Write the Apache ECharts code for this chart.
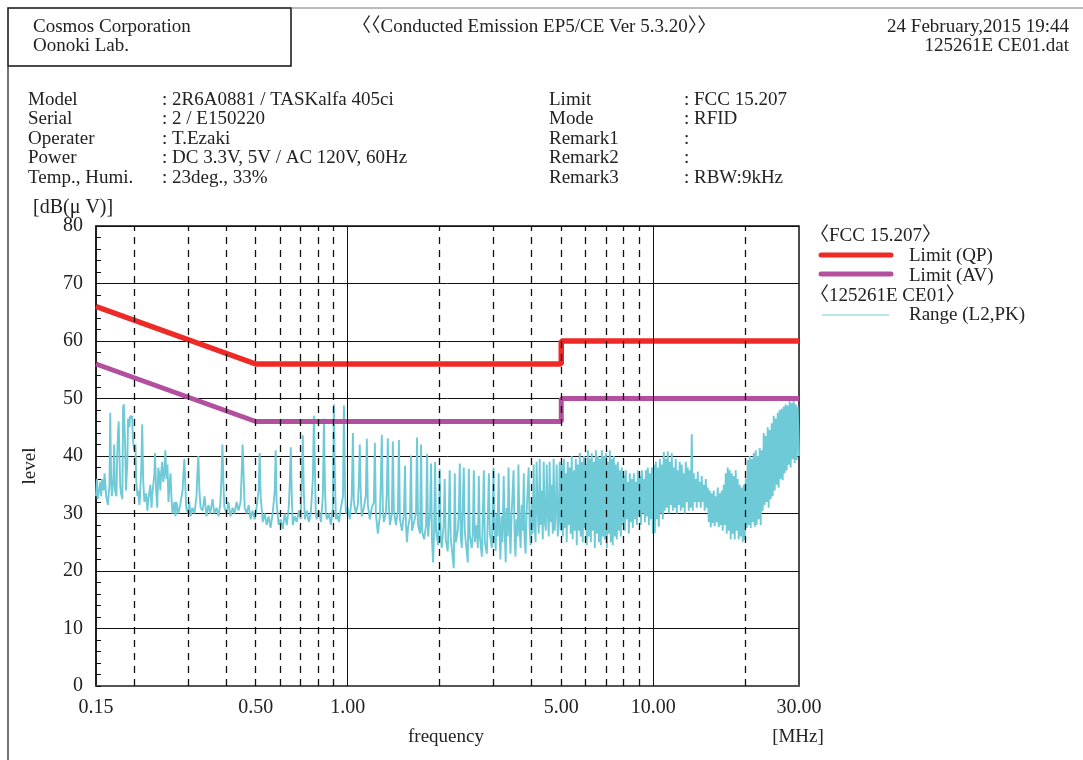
<!DOCTYPE html>
<html>
<head>
<meta charset="utf-8">
<script src="https://cdn.jsdelivr.net/npm/echarts@6/dist/echarts.min.js"></script>
<style>
  html, body { margin: 0; padding: 0; background: #fff; }
  #chart { width: 1083px; height: 760px; }
</style>
</head>
<body>
<div id="chart"></div>
<script>
// ---- Limit lines (MHz, dBuV) ----
const limitQP = [[0.15, 66], [0.5, 56], [5, 56], [5, 60], [30, 60]];
const limitAV = [[0.15, 56], [0.5, 46], [5, 46], [5, 50], [30, 50]];

// ---- Measured peak trace, L2 (MHz, dBuV), split by band ----
const traceBand1 = [
  [0.150,33],[0.151,36],[0.152,32.5],[0.155,35.5],[0.156,33],[0.157,36],[0.159,34],[0.160,37],[0.162,33],[0.164,31.5],
  [0.166,35],[0.167,47.5],[0.168,37],[0.169,33],[0.171,36],[0.172,42],[0.173,34],[0.175,33],[0.176,40],[0.177,44],
  [0.178,46],[0.180,35],[0.181,33.5],[0.183,32.5],[0.184,48.5],[0.185,49],[0.187,41],[0.188,34],[0.190,39],[0.191,46.5],
  [0.193,45],[0.194,47],[0.196,46.5],[0.197,47],[0.198,43],[0.200,41],[0.202,42],[0.203,36],[0.205,33],[0.206,34],
  [0.208,31.5],[0.209,33],[0.211,38],[0.2125,45.5],[0.214,36],[0.216,32],[0.219,33.5],[0.221,30.5],[0.222,32],[0.226,35],
  [0.228,31],[0.229,33],[0.233,37],[0.234,40.5],[0.236,34],[0.238,31],[0.240,38],[0.242,36.5],[0.2435,34],[0.245,37],
  [0.247,39],[0.249,35.5],[0.251,37],[0.253,41],[0.255,36],[0.257,38.5],[0.259,32],[0.261,35],[0.263,37],[0.265,32.5],
  [0.267,30],[0.271,32],[0.273,29.5],[0.275,32],[0.279,30],[0.283,31.5],[0.288,34],[0.290,37],[0.292,39.5],[0.294,35],
  [0.296,31],[0.300,30],[0.303,32],[0.306,29.5],[0.310,31],[0.315,30],[0.320,33],[0.322,37],[0.3245,40],[0.327,34],
  [0.330,31],[0.335,30.5],[0.340,33],[0.345,29.5],[0.350,31.5],[0.355,30],[0.361,32.5],[0.366,30],[0.372,31],[0.378,29.5],
  [0.383,32],[0.386,36],[0.389,42],[0.392,35],[0.395,31],[0.401,30],[0.407,32],[0.413,29.5],[0.420,31],[0.426,30],
  [0.433,32],[0.439,30.5],[0.446,32],[0.449,36],[0.453,42],[0.456,37],[0.460,31],[0.467,30],[0.474,31.5],[0.481,29],
  [0.488,30.5],[0.496,29],[0.503,31],[0.511,34],[0.515,40.5],[0.519,33],[0.527,28.5],[0.535,30],[0.543,28],[0.551,29.5],
  [0.559,27.5],[0.568,30],[0.577,34],[0.581,41],[0.585,32],[0.594,28],[0.603,29],[0.613,27.3],[0.622,30],[0.632,28],
  [0.641,31],[0.646,35],[0.651,41.5],[0.656,33],[0.661,28],[0.671,29.5],[0.681,28.5],[0.692,30.5],[0.702,29],[0.707,36],
  [0.713,43.6],[0.718,34],[0.724,29],[0.735,30.5],[0.746,28.5],[0.757,30],[0.769,36],[0.775,47],[0.781,38],[0.786,30],
  [0.792,29],[0.805,30.5],[0.817,28.5],[0.829,33],[0.836,46.5],[0.842,35],[0.848,30],[0.855,29],[0.868,30],[0.881,28],
  [0.894,31],[0.901,49],[0.908,36],[0.915,29],[0.922,30],[0.936,28.5],[0.950,31],[0.965,33],[0.972,48.8],[0.980,34],
  [0.987,30],[0.995,30.5]
];
const traceBand2 = [
  [1.000,31],[1.015,29],[1.031,33],[1.040,44],[1.047,32],[1.063,30],[1.079,31.5],[1.087,35],[1.095,42],[1.104,33],
  [1.112,29.5],[1.129,31],[1.146,33],[1.155,43],[1.164,31.5],[1.181,29],[1.199,31],[1.218,32],[1.227,42.3],[1.236,30],
  [1.255,26.5],[1.274,29.5],[1.284,36],[1.293,43.7],[1.303,31],[1.313,28.5],[1.333,30],[1.343,34],[1.353,43.1],[1.363,31.5],
  [1.374,28],[1.395,30],[1.405,42.5],[1.416,30.5],[1.438,28],[1.460,30.5],[1.471,42.8],[1.482,29],[1.505,27],[1.528,30],
  [1.540,38.3],[1.551,28],[1.563,25],[1.575,27.5],[1.599,29.5],[1.611,40.1],[1.623,27],[1.648,28.5],[1.673,30],[1.686,43.2],
  [1.699,28],[1.725,26.5],[1.738,42],[1.751,27],[1.778,25.5],[1.805,28],[1.819,40.4],[1.832,26],[1.860,30],[1.874,38.7],
  [1.888,25],[1.903,21.5],[1.917,26.5],[1.932,39],[1.946,27],[1.976,24.5],[1.991,31],[2.000,37.8],[2.015,26],[2.031,24],
  [2.061,28],[2.077,36],[2.093,25.5],[2.125,23.4],[2.141,29],[2.157,37.5],[2.173,26],[2.190,24],[2.224,20.5],[2.241,37],
  [2.257,25],[2.292,27],[2.310,30],[2.327,38.7],[2.344,26],[2.362,24],[2.398,38],[2.416,27],[2.435,25],[2.472,21.5],
  [2.491,37.8],[2.510,26],[2.548,24],[2.568,27],[2.587,37.5],[2.607,25],[2.646,28],[2.666,24],[2.686,36.5],[2.707,26],
  [2.748,22.5],[2.769,30],[2.790,37.5],[2.811,25],[2.854,23],[2.898,37],[2.920,26.5],[2.964,24],[3.000,38]
];
const traceBand3 = [
  [3.02,28],[3.05,23.5],[3.07,30],[3.09,26],[3.12,37],[3.14,27],[3.16,22],[3.19,29.5],[3.21,25],[3.24,36.5],
  [3.26,28],[3.29,21.5],[3.31,31],[3.34,26],[3.36,38],[3.39,27.5],[3.41,23],[3.44,30],[3.46,33],[3.49,37.5],
  [3.52,25.5],[3.54,22.5],[3.57,29],[3.60,26],[3.62,38.5],[3.65,28],[3.68,24],[3.71,31.5],[3.74,27],[3.77,37],
  [3.79,26],[3.82,23],[3.85,30],[3.88,34],[3.91,38],[3.94,27.5],[3.97,24.5],[4.00,32],[4.03,26.5],[4.06,38.5],
  [4.09,28],[4.12,25],[4.15,39],[4.19,30],[4.22,26.5],[4.25,39.5],[4.28,28],[4.31,34],[4.35,25.5],[4.38,39],
  [4.41,29],[4.45,27],[4.48,38.5],[4.51,31],[4.55,26],[4.58,39],[4.62,28.5],[4.65,35],[4.69,26.5],[4.72,39.5],
  [4.76,27],[4.80,31],[4.83,38.5],[4.87,26],[4.91,29],[4.94,39],[4.98,27]
];
const traceBand4 = [
  [5.02,38.5],[5.06,26],[5.10,39.5],[5.13,27.5],[5.17,37],[5.21,25],[5.25,39],[5.29,28],[5.33,38],[5.37,26.5],
  [5.41,40],[5.45,25.5],[5.50,37.5],[5.54,27],[5.58,39.5],[5.62,24.5],[5.66,38.5],[5.71,27],[5.75,40.5],[5.79,26],
  [5.84,39],[5.88,25],[5.93,40],[5.97,27.5],[6.02,38.5],[6.06,24.5],[6.11,41],[6.15,26],[6.20,39.5],[6.25,25],
  [6.29,40.5],[6.34,27],[6.39,39],[6.44,24],[6.49,41],[6.54,26.5],[6.59,40],[6.64,25],[6.69,39.5],[6.74,24.5],
  [6.79,41],[6.84,26],[6.89,40],[6.94,25.5],[7.00,40.5],[7.05,24],[7.10,39],[7.16,26.5],[7.21,41],[7.26,25],
  [7.32,39.5],[7.37,24.5],[7.43,40],[7.49,26],[7.54,38.5],[7.60,25.5],[7.66,39],[7.72,27],[7.77,37.5],[7.83,26],
  [7.89,38],[7.95,28],[8.01,36.5],[8.07,27],[8.13,37.5],[8.20,29],[8.26,35.5],[8.32,26.5],[8.38,37],[8.45,28.5],
  [8.51,36],[8.58,27.5],[8.64,37],[8.71,29],[8.77,35.5],[8.84,28],[8.91,37.5],[8.97,29.5],[9.04,36.5],[9.11,28],
  [9.18,37.5],[9.25,30],[9.32,36],[9.39,28.5],[9.46,37.5],[9.53,29.5],[9.60,38],[9.68,28],[9.75,37],[9.82,29],
  [9.90,38],[9.97,26.5]
];
const traceBand5 = [
  [10.05,38.5],[10.12,26.6],[10.20,39],[10.28,29],[10.35,38],[10.43,27.7],[10.51,39.5],[10.59,30],[10.67,38.5],[10.75,29],
  [10.83,40.7],[10.91,30.5],[10.99,39.5],[11.08,31],[11.16,40.8],[11.25,30],[11.33,39],[11.42,31.5],[11.50,40.5],[11.59,30.5],
  [11.68,38],[11.76,31],[11.85,39.5],[11.94,30],[12.03,37.5],[12.12,31.5],[12.21,39],[12.31,30.5],[12.40,38.5],[12.49,31],
  [12.59,37],[12.68,30],[12.78,39],[12.87,32],[12.97,38],[13.07,30.5],[13.17,37.5],[13.27,31],[13.37,43.8],[13.47,30.5],
  [13.57,37],[13.67,32],[13.78,36],[13.88,31],[13.99,37.3],[14.09,32],[14.20,35.5],[14.31,31],[14.41,36.5],[14.52,32],
  [14.63,35],[14.74,30.5],[14.86,36],[14.97,31],[15.08,34.5],[15.20,28.5],[15.31,34],[15.43,27.6],[15.54,33.5],[15.66,28.3],
  [15.78,34],[15.90,27.8],[16.02,33],[16.14,28.5],[16.26,34.5],[16.38,27.6],[16.51,33.5],[16.63,28],[16.76,34],[16.88,27],
  [17.01,35],[17.14,28],[17.27,37],[17.40,26.5],[17.53,38],[17.66,27],[17.80,37.5],[17.93,25.5],[18.07,37],[18.20,26.5],
  [18.34,36.5],[18.48,25.5],[18.62,37.5],[18.76,27],[18.90,36],[19.04,25.5],[19.19,35],[19.33,26],[19.48,34.5],[19.63,25],
  [19.78,35],[19.93,25.4],[20.08,36],[20.23,27.5],[20.38,39.3],[20.54,28],[20.69,40],[20.85,27.5],[21.01,39.5],[21.17,28.5],
  [21.33,40.5],[21.49,27.7],[21.65,41],[21.81,28],[21.98,40],[22.14,29],[22.31,41.4],[22.48,28],[22.65,41],[22.82,30.5],
  [22.99,44],[23.17,31.5],[23.34,43.5],[23.52,32],[23.70,45],[23.87,31],[24.06,44.5],[24.24,32.5],[24.42,45.7],[24.61,33],
  [24.79,47],[24.98,34],[25.17,46.5],[25.36,35],[25.55,47.5],[25.74,34.5],[25.94,48],[26.13,36],[26.33,48.2],[26.53,35.8],
  [26.73,48.6],[26.93,37],[27.13,49],[27.34,37.5],[27.54,48.8],[27.75,38.5],[27.96,49.6],[28.17,38],[28.39,49.2],[28.60,39.5],
  [28.82,49.8],[29.03,38.8],[29.25,49],[29.47,39.3],[29.70,48.6],[30.00,40]
];

// ---- Axis decoration ----
const dashedGridFreqs = [0.2, 0.3, 0.4, 0.5, 0.6, 0.7, 0.8, 0.9, 2, 3, 4, 5, 6, 7, 8, 9, 20];
const solidGridFreqs = [1, 10];
const freqTicks = [0.15, 0.5, 1, 5, 10, 30];
const freqTickLabels = ['0.15', '0.50', '1.00', '5.00', '10.00', '30.00'];

// ---- Header / info text ----
const infoLeftKeys = ['Model', 'Serial', 'Operater', 'Power', 'Temp., Humi.'];
const infoLeftVals = [': 2R6A0881 / TASKalfa 405ci', ': 2 / E150220', ': T.Ezaki', ': DC 3.3V, 5V / AC 120V, 60Hz', ': 23deg., 33%'];
const infoRightKeys = ['Limit', 'Mode', 'Remark1', 'Remark2', 'Remark3'];
const infoRightVals = [': FCC 15.207', ': RFID', ':', ':', ': RBW:9kHz'];

const FONT_FAMILY = '"Liberation Serif", "Noto Sans CJK JP", serif';
const TXT = '#222';
const font = (size) => size + 'px ' + FONT_FAMILY;

const traceData = [].concat(traceBand1, traceBand2, traceBand3, traceBand4, traceBand5);

function txt(text, x, y, opts) {
  opts = opts || {};
  return {
    type: 'text', x: x, y: y, rotation: opts.rotation || 0, silent: true,
    style: {
      text: text, font: font(opts.size || 19), fill: opts.color || TXT,
      align: opts.align || 'left', verticalAlign: 'middle',
      textAlign: opts.align || 'left', textVerticalAlign: 'middle'
    }
  };
}
function seg(x1, y1, x2, y2, color, width, cap) {
  return { type: 'line', silent: true, shape: { x1: x1, y1: y1, x2: x2, y2: y2 },
           style: { stroke: color, lineWidth: width, lineCap: cap || 'butt' } };
}

const rowY = [100, 119.5, 139, 158.5, 178];
const graphics = [
  // page frame
  { type: 'rect', silent: true, shape: { x: 8, y: 8, width: 283, height: 58 },
    style: { fill: 'none', stroke: '#111', lineWidth: 1.5 } },
  seg(291, 8, 1083, 8, '#777', 1),
  seg(8, 66, 8, 760, '#444', 1.5),
  // header
  txt('Cosmos Corporation', 33, 27),
  txt('Oonoki Lab.', 33, 46),
  txt('〈〈Conducted Emission EP5/CE Ver 5.3.20〉〉', 352, 27),
  txt('24 February,2015 19:44', 1069, 27, { align: 'right' }),
  txt('125261E CE01.dat', 1069, 46, { align: 'right' }),
  // axis titles
  txt('[dB(μ V)]', 33, 208, { size: 20 }),
  txt('level', 30, 466, { rotation: Math.PI / 2, align: 'center' }),
  txt('frequency', 446, 737, { align: 'center' }),
  txt('[MHz]', 798, 737, { align: 'center' }),
  // legend
  txt('〈FCC 15.207〉', 810, 236),
  seg(821, 255, 891, 255, '#ee2a27', 5, 'round'),
  txt('Limit (QP)', 909, 256),
  seg(821, 274, 891, 274, '#b24f9e', 5, 'round'),
  txt('Limit (AV)', 909, 276),
  txt('〈125261E CE01〉', 810, 296),
  seg(822, 315, 889, 315, '#6fcad8', 1),
  txt('Range (L2,PK)', 909, 315)
];
infoLeftKeys.forEach((k, i) => {
  graphics.push(txt(k, 28, rowY[i]));
  graphics.push(txt(infoLeftVals[i], 162, rowY[i]));
});
infoRightKeys.forEach((k, i) => {
  graphics.push(txt(k, 549, rowY[i]));
  graphics.push(txt(infoRightVals[i], 684, rowY[i]));
});

const chart = echarts.init(document.getElementById('chart'), null, { renderer: 'canvas' });
chart.setOption({
  animation: false,
  backgroundColor: '#fff',
  grid: { left: 96, top: 226, right: 284, bottom: 74, show: true,
          borderColor: '#111', borderWidth: 1.5, backgroundColor: 'transparent' },
  xAxis: {
    type: 'log', logBase: 10, min: 0.15, max: 30,
    axisLine: { show: true, onZero: false, lineStyle: { color: '#555', width: 2 } },
    axisTick: { show: false }, axisLabel: { show: false },
    splitLine: { show: false }, minorTick: { show: false }, minorSplitLine: { show: false }
  },
  yAxis: {
    type: 'value', min: 0, max: 80, interval: 10,
    axisLine: { show: true, lineStyle: { color: '#111', width: 1.5 } },
    axisTick: { show: true, inside: true, length: 5, lineStyle: { color: '#111' } },
    minorTick: { show: true, splitNumber: 5, length: 5, lineStyle: { color: '#111' } },
    axisLabel: { fontFamily: FONT_FAMILY, fontSize: 20, color: TXT, margin: 13 },
    splitLine: { show: true, lineStyle: { color: '#111', width: 1 } }
  },
  graphic: graphics,
  series: [
    {
      // vertical frequency grid
      type: 'line', data: [[0.15, 0]], symbol: 'none', silent: true, z: 1,
      lineStyle: { width: 0 },
      markLine: {
        silent: true, symbol: ['none', 'none'], label: { show: false }, animation: false,
        data: dashedGridFreqs.map(f => ({ xAxis: f, lineStyle: { type: [7, 6], color: '#111', width: 1.3 } }))
          .concat(solidGridFreqs.map(f => ({ xAxis: f, lineStyle: { type: 'solid', color: '#111', width: 1 } })))
      }
    },
    {
      name: 'Range (L2,PK)', type: 'line', data: traceData, symbol: 'none', showSymbol: false,
      sampling: null, silent: true, z: 2,
      lineStyle: { color: '#6fcad8', width: 1.9 }
    },
    {
      name: 'Limit (AV)', type: 'line', data: limitAV, symbol: 'none', silent: true, z: 3,
      lineStyle: { color: '#b24f9e', width: 5 }
    },
    {
      name: 'Limit (QP)', type: 'line', data: limitQP, symbol: 'none', silent: true, z: 3,
      lineStyle: { color: '#ee2a27', width: 5.5 }
    },
    {
      // frequency tick labels placed through the log axis
      type: 'custom', silent: true, z: 4,
      data: freqTicks.map(f => [f, 0]),
      renderItem: function (params, api) {
        const p = api.coord([api.value(0), api.value(1)]);
        return {
          type: 'text', x: p[0], y: p[1] + 22,
          style: { text: freqTickLabels[params.dataIndex], font: font(20), fill: TXT,
                   align: 'center', verticalAlign: 'middle', textAlign: 'center', textVerticalAlign: 'middle' }
        };
      }
    }
  ]
});
</script>
</body>
</html>
